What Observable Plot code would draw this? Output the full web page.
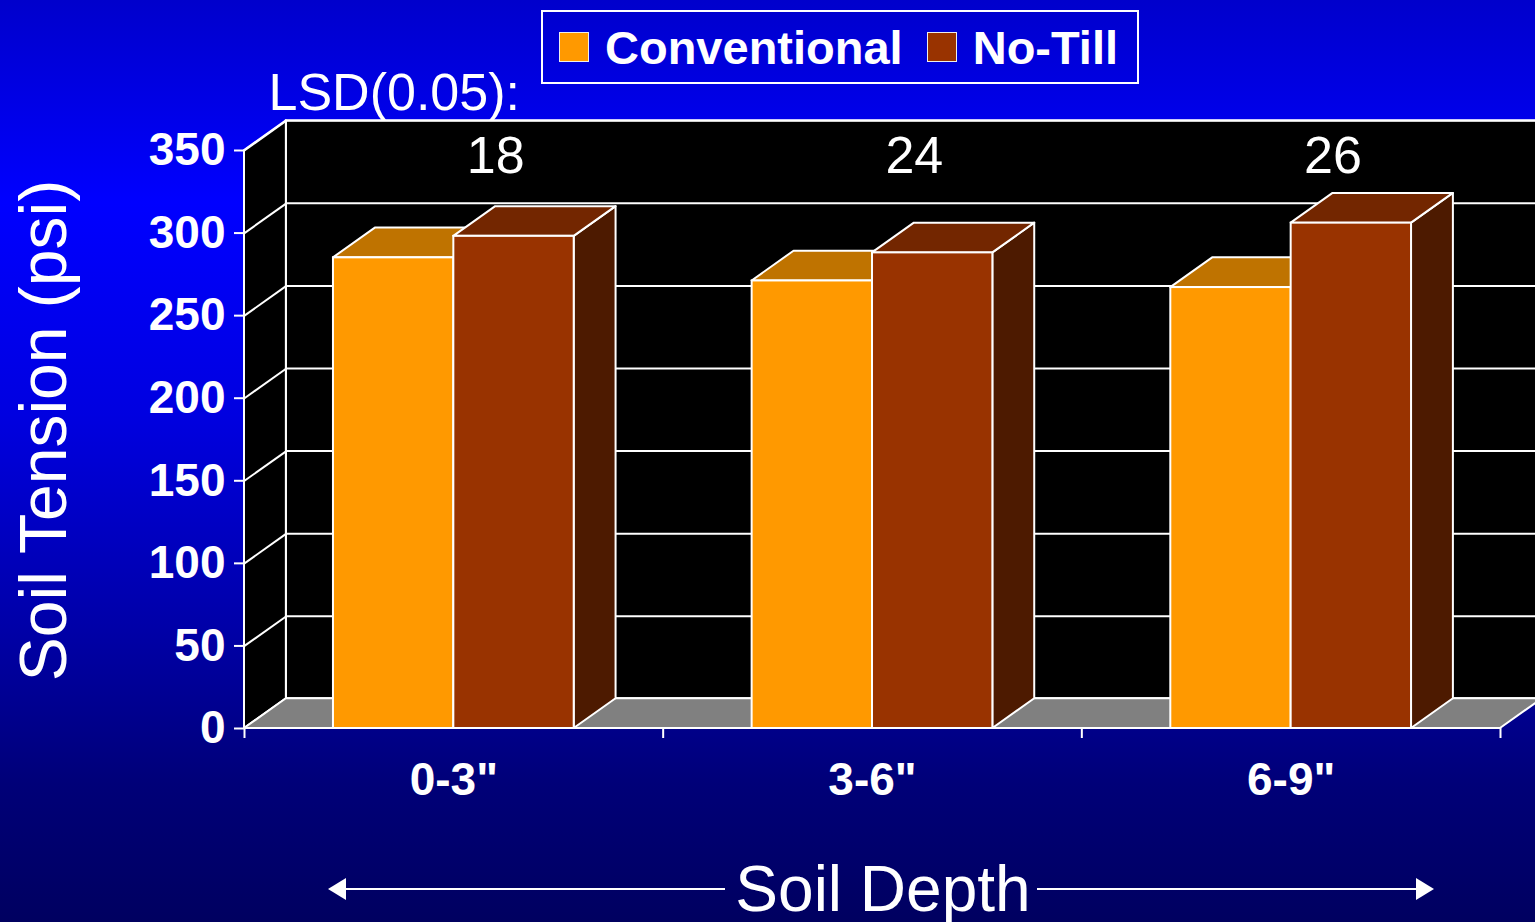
<!DOCTYPE html>
<html>
<head>
<meta charset="utf-8">
<script src="https://cdn.jsdelivr.net/npm/d3@7"></script>
<script src="https://cdn.jsdelivr.net/npm/@observablehq/plot@0.6"></script>
<style>
  html, body { margin: 0; padding: 0; }
  body {
    width: 1535px; height: 922px; overflow: hidden;
    background: linear-gradient(to bottom, #0000cc 0%, #0000ff 22%, #0000e0 45%, #0000a8 68%, #000078 85%, #000060 100%);
    font-family: "Liberation Sans", Arial, sans-serif;
    color: white;
  }
  #wrap { position: relative; width: 1535px; height: 922px; }
  #chart { position: absolute; left: 0; top: 0; }
  #legend {
    position: absolute; left: 541px; top: 10px; width: 594px; height: 70px;
    border: 2px solid white; display: flex; align-items: center;
    font-weight: bold; font-size: 47px; box-sizing: content-box;
  }
  #legend .sw { width: 28px; height: 28px; border: 1.5px solid #eee; margin-left: 16px; margin-right: 16px; }
  #legend .lab { white-space: nowrap; }
  #xtitle {
    position: absolute; left: 330px; top: 857px; width: 1102px; height: 64px;
    display: flex; align-items: center; font-size: 64px;
  }
  #xtitle .line { flex: 1; height: 2px; background: white; position: relative; }
  #xtitle .line.left { margin-right: 10px; }
  #xtitle .line.right { margin-left: 6px; }
  #xtitle .line.left::before {
    content: ""; position: absolute; left: -2px; top: -10px;
    border-top: 11px solid transparent; border-bottom: 11px solid transparent; border-right: 18px solid white;
  }
  #xtitle .line.right::after {
    content: ""; position: absolute; right: -2px; top: -10px;
    border-top: 11px solid transparent; border-bottom: 11px solid transparent; border-left: 18px solid white;
  }
  #xtitle .txt { line-height: 1; white-space: nowrap; }
</style>
</head>
<body>
<div id="wrap">
  <div id="chart"></div>
  <div id="legend"></div>
  <div id="xtitle"><div class="line left"></div><div class="txt"></div><div class="line right"></div></div>
</div>
<script>
// ---- data ----
const categories = ['0-3"', '3-6"', '6-9"'];
const seriesNames = ["Conventional", "No-Till"];
const conventional = [285, 271, 267];
const noTill = [298, 288, 306];
const lsdLabel = "LSD(0.05):";
const lsdValues = ["18", "24", "26"];
const yTicks = [0, 50, 100, 150, 200, 250, 300, 350];
const yTitle = "Soil Tension (psi)";
const xTitle = "Soil Depth";

// ---- styling / layout ----
const palette = [
  {front: "#FF9900", top: "#BF7300", side: "#7F4D00"},
  {front: "#993300", top: "#732600", side: "#4D1A00"}
];
const DX = 0.1;      // depth offset in category units
const DY = 18;       // depth offset in psi units
const YMAX = 350;
const BAR_START = 0.2125, BAR_W = 0.2875;
const EDGE = "white", SW = 2;

const seriesValues = [conventional, noTill];
const nCat = categories.length;

const bars = categories.flatMap((cat, i) => seriesNames.map((s, j) => {
  const x1 = i + BAR_START + j * BAR_W;
  return {cat, series: s, j, key: s + "|" + cat, value: seriesValues[j][i], x1, x2: x1 + BAR_W};
}));
const topFaces = bars.flatMap(b => [
  {key: b.key, j: b.j, y: b.value, x1: b.x1, x2: b.x2},
  {key: b.key, j: b.j, y: b.value + DY, x1: b.x1 + DX, x2: b.x2 + DX}
]);
const sideFaces = bars.flatMap(b => [
  {key: b.key, j: b.j, x: b.x2, y1: 0, y2: b.value},
  {key: b.key, j: b.j, x: b.x2 + DX, y1: DY, y2: b.value + DY}
]);
const backWall = [{x1: DX, x2: nCat + DX, y1: DY, y2: YMAX + DY}];
const sideWall = [{x: 0, y1: 0, y2: YMAX}, {x: DX, y1: DY, y2: YMAX + DY}];
const floor = [{y: 0, x1: 0, x2: nCat}, {y: DY, x1: DX, x2: nCat + DX}];

const barMarks = seriesNames.flatMap((s, j) => [
  Plot.areaY(sideFaces.filter(d => d.j === j), {x: "x", y1: "y1", y2: "y2", z: "key", fill: palette[j].side, stroke: EDGE, strokeWidth: SW}),
  Plot.areaX(topFaces.filter(d => d.j === j), {y: "y", x1: "x1", x2: "x2", z: "key", fill: palette[j].top, stroke: EDGE, strokeWidth: SW}),
  Plot.rect(bars.filter(d => d.j === j), {x1: "x1", x2: "x2", y1: 0, y2: "value", fill: palette[j].front, stroke: EDGE, strokeWidth: SW})
]);

const plot = Plot.plot({
  width: 1535,
  height: 922,
  marginLeft: 244,
  marginRight: 35,
  marginTop: 150,
  marginBottom: 194,
  style: {background: "transparent", color: "white", fontFamily: "'Liberation Sans', Arial, sans-serif", overflow: "visible"},
  x: {type: "linear", domain: [0, nCat]},
  y: {domain: [0, YMAX]},
  marks: [
    // back wall + gridlines
    Plot.rect(backWall, {x1: "x1", x2: "x2", y1: "y1", y2: "y2", fill: "black", stroke: EDGE, strokeWidth: SW}),
    Plot.ruleY(yTicks, {y: d => d + DY, x1: DX, x2: nCat + DX, stroke: EDGE, strokeWidth: SW}),
    // left side wall + its gridlines
    Plot.areaY(sideWall, {x: "x", y1: "y1", y2: "y2", fill: "black", stroke: EDGE, strokeWidth: SW}),
    Plot.link(yTicks, {x1: 0, y1: d => d, x2: DX, y2: d => d + DY, stroke: EDGE, strokeWidth: SW}),
    // floor
    Plot.areaX(floor, {y: "y", x1: "x1", x2: "x2", fill: "#808080", stroke: EDGE, strokeWidth: SW}),
    // bars
    ...barMarks,
    // axes
    Plot.axisY({ticks: yTicks, tickSize: 10, tickPadding: 9, fontSize: 46, fontWeight: "bold", label: null, strokeWidth: SW}),
    Plot.axisX({ticks: d3.range(nCat + 1), tickSize: 10, tickFormat: () => "", label: null, strokeWidth: SW}),
    Plot.axisX({ticks: categories.map((c, i) => i + 0.5), tickSize: 0, tickPadding: 34, tickFormat: d => categories[Math.floor(d)], fontSize: 46, fontWeight: "bold", label: null}),
    // LSD annotations
    Plot.text(lsdValues, {x: (d, i) => i + 0.5 + DX, y: YMAX, dy: 6, text: d => d, fontSize: 52, fill: "white"}),
    Plot.text([lsdLabel], {frameAnchor: "top-left", dx: 24, dy: -41, lineAnchor: "bottom", textAnchor: "start", text: d => d, fontSize: 52, fill: "white"}),
    // y title
    Plot.text([yTitle], {frameAnchor: "left", rotate: -90, dx: -179, dy: -9, lineAnchor: "bottom", textAnchor: "middle", text: d => d, fontSize: 66, fill: "white"})
  ]
});
document.getElementById("chart").appendChild(plot);

// legend
const legend = document.getElementById("legend");
seriesNames.forEach((s, j) => {
  const sw = document.createElement("div");
  sw.className = "sw";
  sw.style.background = palette[j].front;
  if (j > 0) sw.style.marginLeft = "24px";
  const lab = document.createElement("div");
  lab.className = "lab";
  lab.textContent = s;
  legend.appendChild(sw);
  legend.appendChild(lab);
});
document.querySelector("#xtitle .txt").textContent = xTitle;
</script>
</body>
</html>
